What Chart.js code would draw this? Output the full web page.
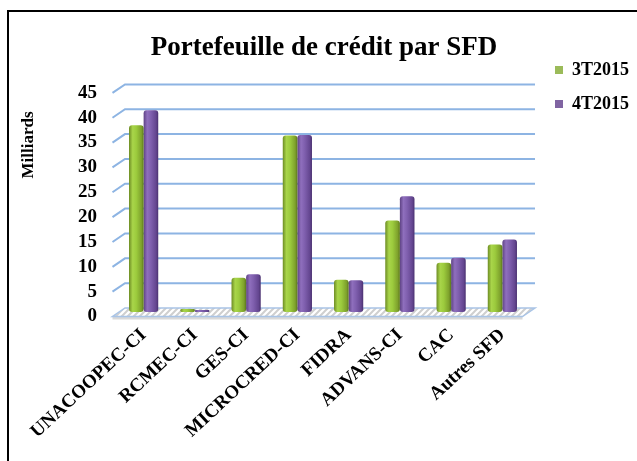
<!DOCTYPE html>
<html>
<head>
<meta charset="utf-8">
<script src="https://cdn.jsdelivr.net/npm/chart.js@4.4.0/dist/chart.umd.min.js"></script>
<style>
  html, body { margin: 0; padding: 0; background: #fff; overflow: hidden; }
  #wrap { position: relative; width: 637px; height: 461px; overflow: hidden; }
  #frame { position: absolute; left: 7px; top: 10px; width: 660px; height: 480px; border: 2px solid #000; box-sizing: border-box; }
  canvas { position: absolute; left: 0; top: 0; }
</style>
</head>
<body>
<div id="wrap">
  <div id="frame"></div>
  <canvas id="chart" width="637" height="461"></canvas>
</div>
<script>
// Portefeuille de crédit par SFD (milliards)
const categories = ["UNACOOPEC-CI", "RCMEC-CI", "GES-CI", "MICROCRED-CI", "FIDRA", "ADVANS-CI", "CAC", "Autres SFD"];
const t3 = [37.6, 0.6, 6.9, 35.5, 6.5, 18.4, 9.9, 13.6];
const t4 = [40.6, 0.4, 7.6, 35.6, 6.4, 23.3, 10.9, 14.6];
const seriesNames = ["3T2015", "4T2015"];
const seriesColors = ["#9bbb59", "#8064a2"];

const FONT = "'Liberation Serif', 'Times New Roman', serif";
const CAT_PCT = 0.57;

// 3D look: back wall is shifted up/right, front edge down/left
const BACK = { dx: 7, dy: -4 };
const FRONT = { dx: -5.5, dy: 4.5 };

// horizontal gradient so the bars look like cylinders
function cylinder(stops, flat, side) {
    return (c) => {
        const x = c.chart.scales.x;
        if (!x || c.type !== "data") return flat;
        const center = x.getPixelForValue(c.dataIndex);
        const w = (x.right - x.left) / categories.length * CAT_PCT / 2;
        if (!isFinite(center) || !isFinite(w) || w <= 0) return flat;
        const x0 = side === 0 ? center - w : center;
        const g = c.chart.ctx.createLinearGradient(x0, 0, x0 + w, 0);
        stops.forEach(([p, col]) => g.addColorStop(p, col));
        return g;
    };
}

const greenStops = [[0, "#6d8c24"], [0.25, "#a9d54a"], [0.5, "#9ccb3d"], [0.85, "#7ea12c"], [1, "#5b771b"]];
const purpleStops = [[0, "#5e4284"], [0.25, "#8f6fbd"], [0.5, "#7f5fae"], [0.85, "#644690"], [1, "#4a3170"]];

function hatch(ctx) {
    const c = document.createElement("canvas");
    c.width = 6; c.height = 6;
    const p = c.getContext("2d");
    p.fillStyle = "#ffffff";
    p.fillRect(0, 0, 6, 6);
    p.strokeStyle = "#cfcfcf";
    p.lineWidth = 2;
    p.beginPath();
    p.moveTo(0, 6); p.lineTo(6, 0);
    p.moveTo(-3, 3); p.lineTo(3, -3);
    p.moveTo(3, 9); p.lineTo(9, 3);
    p.stroke();
    return ctx.createPattern(c, "repeat");
}

const wallPlugin = {
    id: "wall",
    beforeDatasetsDraw(chart) {
        const { ctx, chartArea: a, scales: { y } } = chart;
        const y0 = y.getPixelForValue(0);
        ctx.save();
        // floor slab edge
        ctx.fillStyle = "#d9d9d9";
        ctx.fillRect(a.left + FRONT.dx, y0 + FRONT.dy, a.right - a.left, 3);
        // floor
        ctx.beginPath();
        ctx.moveTo(a.left + FRONT.dx, y0 + FRONT.dy);
        ctx.lineTo(a.right + FRONT.dx, y0 + FRONT.dy);
        ctx.lineTo(a.right + BACK.dx, y0 + BACK.dy);
        ctx.lineTo(a.left + BACK.dx, y0 + BACK.dy);
        ctx.closePath();
        ctx.fillStyle = hatch(ctx);
        ctx.fill();
        ctx.strokeStyle = "#a9c4e6";
        ctx.lineWidth = 1.5;
        ctx.stroke();
        // gridlines on the back wall
        ctx.strokeStyle = "#8db4e3";
        ctx.lineWidth = 2;
        y.ticks.forEach(t => {
            if (t.value === 0) return;
            const py = y.getPixelForValue(t.value);
            ctx.beginPath();
            ctx.moveTo(a.left + FRONT.dx, py + FRONT.dy);
            ctx.lineTo(a.left + BACK.dx, py + BACK.dy);
            ctx.lineTo(a.right + BACK.dx, py + BACK.dy);
            ctx.stroke();
        });
        ctx.restore();
    },
    afterDraw(chart) {
        const { ctx } = chart;
        ctx.save();
        ctx.translate(29, 145);
        ctx.rotate(-Math.PI / 2);
        ctx.font = "bold 17px " + FONT;
        ctx.fillStyle = "#000";
        ctx.textAlign = "center";
        ctx.textBaseline = "middle";
        ctx.fillText("Milliards", 0, 0);
        ctx.restore();
    }
};

// put the legend up beside the title, like the original
const legendSpot = {
    id: "legendSpot",
    afterLayout(chart) {
        const lg = chart.legend;
        const dx = 539 - lg.left, dy = 45 - lg.top;
        lg.left += dx; lg.right += dx;
        lg.top += dy; lg.bottom += dy;
    }
};

new Chart(document.getElementById("chart"), {
    type: "bar",
    data: {
        labels: categories,
        datasets: [{
            label: seriesNames[0],
            data: t3,
            backgroundColor: cylinder(greenStops, seriesColors[0], 0),
            borderRadius: 3,
            borderSkipped: false
        }, {
            label: seriesNames[1],
            data: t4,
            backgroundColor: cylinder(purpleStops, seriesColors[1], 1),
            borderRadius: 3,
            borderSkipped: false
        }]
    },
    plugins: [wallPlugin, legendSpot],
    options: {
        responsive: false,
        animation: false,
        layout: { padding: { left: 20, right: 9, top: 0, bottom: 0 } },
        datasets: { bar: { barPercentage: 1, categoryPercentage: CAT_PCT } },
        scales: {
            x: {
                grid: { display: false, drawTicks: false },
                border: { display: false },
                ticks: {
                    autoSkip: false, minRotation: 43, maxRotation: 43, padding: 12,
                    color: "#000", font: { family: FONT, size: 19, weight: "bold" }
                },
                afterFit: (s) => { s.height = 149; }
            },
            y: {
                min: 0, max: 45,
                grid: { display: false, drawTicks: false },
                border: { display: false },
                ticks: {
                    stepSize: 5, autoSkip: false, padding: 21, labelOffset: 4.5,
                    color: "#000", font: { family: FONT, size: 19, weight: "bold" }
                },
                afterFit: (s) => { s.width = 98; }
            }
        },
        plugins: {
            title: {
                display: true,
                text: "Portefeuille de crédit par SFD",
                color: "#000",
                font: { family: FONT, size: 27, weight: "bold" },
                padding: { top: 32, bottom: 24 }
            },
            legend: {
                position: "right",
                align: "start",
                labels: {
                    boxWidth: 8, boxHeight: 8, padding: 16,
                    color: "#000", font: { family: FONT, size: 18, weight: "bold" },
                    generateLabels: (chart) =>
                        Chart.defaults.plugins.legend.labels.generateLabels(chart).map((item, i) => ({
                            ...item, fillStyle: seriesColors[i], strokeStyle: seriesColors[i], lineWidth: 0
                        }))
                }
            },
            tooltip: { enabled: false }
        }
    }
});
</script>
</body>
</html>
